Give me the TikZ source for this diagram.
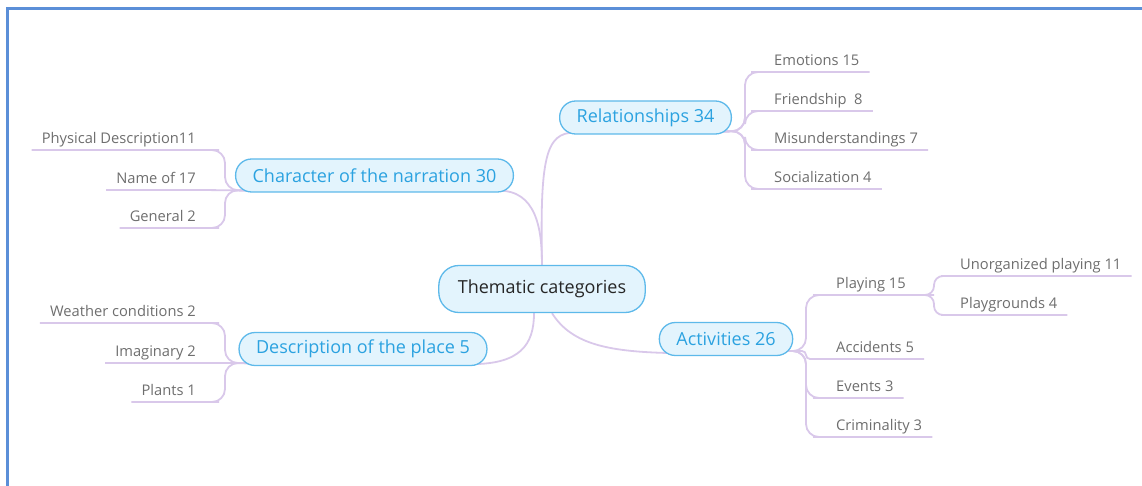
\documentclass[tikz,border=0pt]{standalone}
\usepackage{fontspec}
\setmainfont{Open Sans}
\usetikzlibrary{calc,backgrounds}
\definecolor{framecol}{HTML}{5B8FD8}
\definecolor{boxfill}{HTML}{E3F4FD}
\definecolor{boxline}{HTML}{5DB9EA}
\definecolor{boxtext}{HTML}{2BA2E0}
\definecolor{conncol}{HTML}{D9C8EA}
\definecolor{leafcol}{HTML}{6E6E6E}
\begin{document}
\begin{tikzpicture}[x=1pt,y=-1pt,
 central/.style={draw=boxline, line width=1.3, fill=boxfill, rounded corners=20, minimum height=47, inner xsep=19, font=\fontsize{18}{20}\selectfont, text=black!85},
 branch/.style={draw=boxline, line width=1.3, fill=boxfill, rounded corners=16, minimum height=33, inner xsep=17, font=\fontsize{18}{20}\selectfont, text=boxtext},
 leafnode/.style={inner xsep=10, inner ysep=3, text height=10, text depth=3, font=\fontsize{14.7}{16}\selectfont, text=leafcol},
 link/.style={draw=conncol, line width=1.8},
 sub/.style={draw=conncol, line width=1.8, rounded corners=13},
]
\useasboundingbox (0,0) rectangle (1142,486);
\draw[draw=framecol, line width=3] (7,486) -- (7,9) -- (1142,9);

% main nodes
\node[central] (c) at (542,289) {Thematic categories};
\node[branch] (rel) at (645.5,117.5) {Relationships 34};
\node[branch] (ch) at (374.5,175.5) {Character of the narration 30};
\node[branch] (desc) at (363,349) {Description of the place 5};
\node[branch] (act) at (726,339) {Activities 26};

% leaves
\node[leafnode, anchor=south west] (r1) at (764,72) {Emotions 15};
\node[leafnode, anchor=south west] (r2) at (764,111) {Friendship\ \ 8};
\node[leafnode, anchor=south west] (r3) at (764,150) {Misunderstandings 7};
\node[leafnode, anchor=south west] (r4) at (764,189) {Socialization 4};

\node[leafnode, anchor=south east] (h1) at (206,150) {Physical Description11};
\node[leafnode, anchor=south east] (h2) at (206,190) {Name of 17};
\node[leafnode, anchor=south east] (h3) at (206,228) {General 2};

\node[leafnode, anchor=south east] (d1) at (206,323) {Weather conditions 2};
\node[leafnode, anchor=south east] (d2) at (206,363) {Imaginary 2};
\node[leafnode, anchor=south east] (d3) at (206,402) {Plants 1};

\node[leafnode, anchor=south west] (a1) at (826,295) {Playing 15};
\node[leafnode, anchor=south west] (a2) at (826,359) {Accidents 5};
\node[leafnode, anchor=south west] (a3) at (826,398) {Events 3};
\node[leafnode, anchor=south west] (a4) at (826,437) {Criminality 3};

\node[leafnode, anchor=south west] (p1) at (950,276) {Unorganized playing 11};
\node[leafnode, anchor=south west] (p2) at (950,315) {Playgrounds 4};

% trunk coordinates
\coordinate (rt) at (745,131);
\coordinate (ht) at (225,190);
\coordinate (dt) at (225,363);
\coordinate (at) at (806,351);
\coordinate (pt) at (934,295);

\begin{scope}[on background layer]
\draw[link] (c.north) .. controls (540,160) and (545,132) .. ($(rel.south west)+(16,-2)$);
\draw[link] (c.north) .. controls (542,228) and (536,190) .. ($(ch.south east)+(-16,-2)$);
\draw[link] ($(c.south)+(-8,0)$) .. controls (534,345) and (520,364) .. ($(desc.south east)+(-16,-2)$);
\draw[link] ($(c.south)+(10,0)$) .. controls (572,345) and (610,352) .. ($(act.south west)+(16,-3)$);

\foreach \n in {r1,r2,r3,r4}
  \draw[sub] ($(rel.south east)+(-16,-3)$) -- (rt) |- (\n.south west) -- (\n.south east);

\draw[sub] ($(ch.south west)+(16,-2)$) -- (ht) |- (h1.south east) -- (h1.south west);
\draw[sub] ($(ch.south west)+(16,-2)$) -- (h2.south east) -- (h2.south west);
\draw[sub] ($(ch.south west)+(16,-2)$) -- (ht) |- (h3.south east) -- (h3.south west);

\draw[sub] ($(desc.south west)+(16,-3)$) -- (dt) |- (d1.south east) -- (d1.south west);
\draw[sub] ($(desc.south west)+(16,-3)$) -- (d2.south east) -- (d2.south west);
\draw[sub] ($(desc.south west)+(16,-3)$) -- (dt) |- (d3.south east) -- (d3.south west);

\draw[sub] ($(act.south east)+(-16,-5)$) -- (at) |- (a1.south west) -- (a1.south east) -- (pt);
\draw[sub, rounded corners=4] ($(act.south east)+(-16,-5)$) -- (at) |- (a2.south west) -- (a2.south east);
\draw[sub] ($(act.south east)+(-16,-5)$) -- (at) |- (a3.south west) -- (a3.south east);
\draw[sub] ($(act.south east)+(-16,-5)$) -- (at) |- (a4.south west) -- (a4.south east);

\draw[sub, rounded corners=9] (a1.south east) -- (pt) |- (p1.south west) -- (p1.south east);
\draw[sub, rounded corners=9] (a1.south east) -- (pt) |- (p2.south west) -- (p2.south east);
\end{scope}
\end{tikzpicture}
\end{document}
